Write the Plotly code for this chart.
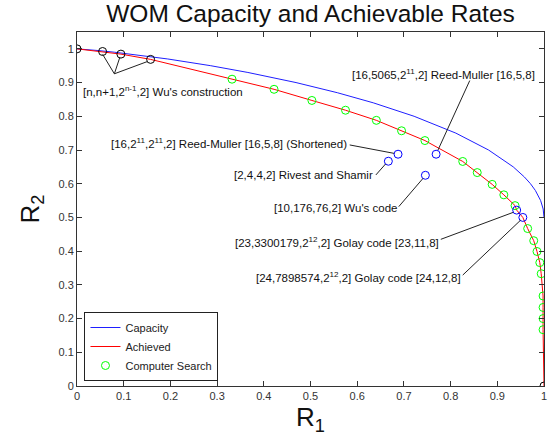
import plotly.graph_objects as go

# ---------------- data ----------------
cap_r1 = [0.0, 0.0208, 0.0454, 0.0808, 0.1414, 0.1944, 0.2864, 0.3659, 0.469, 0.5574,
          0.6343, 0.7219, 0.8113, 0.8813, 0.9341, 0.958, 0.971, 0.9815, 0.9928, 0.9982, 1.0]
cap_r2 = [1.0, 0.998, 0.995, 0.99, 0.98, 0.97, 0.95, 0.93, 0.9, 0.87,
          0.84, 0.8, 0.75, 0.7, 0.65, 0.62, 0.6, 0.58, 0.55, 0.525, 0.5]

ach_r1 = [0.0, 0.0548, 0.094, 0.1576, 0.332, 0.422, 0.503, 0.575, 0.641, 0.695, 0.745,
          0.826, 0.857, 0.889, 0.914, 0.938, 0.9415, 0.9547, 0.965, 0.978, 0.985, 0.991,
          0.994, 0.998, 0.998, 0.998, 0.998, 1.0]
ach_r2 = [1.0, 0.9922, 0.9844, 0.9688, 0.910, 0.880, 0.847, 0.818, 0.788, 0.757, 0.728,
          0.666, 0.633, 0.598, 0.567, 0.535, 0.5217, 0.5, 0.467, 0.431, 0.399, 0.366,
          0.333, 0.267, 0.233, 0.200, 0.167, 0.0]

search_r1 = [0.332, 0.422, 0.503, 0.575, 0.641, 0.695, 0.745, 0.826, 0.857, 0.889, 0.914,
             0.938, 0.965, 0.978, 0.985, 0.991, 0.994, 0.998, 0.998, 0.998, 0.998]
search_r2 = [0.910, 0.880, 0.847, 0.818, 0.788, 0.757, 0.728, 0.666, 0.633, 0.598, 0.567,
             0.535, 0.467, 0.431, 0.399, 0.366, 0.333, 0.267, 0.233, 0.200, 0.167]

code_r1 = [0.769, 0.6875, 0.6667, 0.746, 0.9415, 0.9547]
code_r2 = [0.6875, 0.6875, 0.6667, 0.625, 0.5217, 0.5]

wu_r1 = [0.0, 0.0548, 0.094, 0.1576, 1.0]
wu_r2 = [1.0, 0.9922, 0.9844, 0.9688, 0.0]

tick_vals = [0, 0.1, 0.2, 0.3, 0.4, 0.5, 0.6, 0.7, 0.8, 0.9, 1]
tick_text = ["0", "0.1", "0.2", "0.3", "0.4", "0.5", "0.6", "0.7", "0.8", "0.9", "1"]

labels = [
    "[n,n+1,2<sup>n-1</sup>,2] Wu's construction",
    "[16,5065,2<sup>11</sup>,2] Reed-Muller [16,5,8]",
    "[16,2<sup>11</sup>,2<sup>11</sup>,2] Reed-Muller [16,5,8] (Shortened)",
    "[2,4,4,2] Rivest and Shamir",
    "[10,176,76,2] Wu's code",
    "[23,3300179,2<sup>12</sup>,2] Golay code [23,11,8]",
    "[24,7898574,2<sup>12</sup>,2] Golay code [24,12,8]",
]
label_x = [0.009, 0.986, 0.582, 0.638, 0.689, 0.779, 0.826]
label_y = [0.876, 0.926, 0.720, 0.626, 0.527, 0.428, 0.323]
label_anchor = ["left", "right", "right", "right", "right", "right", "right"]

pointer_lines = [
    (0.080, 0.926, 0.0548, 0.984),
    (0.080, 0.926, 0.092, 0.976),
    (0.080, 0.926, 0.150, 0.962),
    (0.841, 0.906, 0.773, 0.700),
    (0.584, 0.715, 0.679, 0.690),
    (0.640, 0.626, 0.661, 0.659),
    (0.689, 0.532, 0.741, 0.616),
    (0.779, 0.435, 0.934, 0.515),
    (0.826, 0.329, 0.950, 0.492),
]

FONT = "Liberation Sans, Arial, Helvetica, sans-serif"

fig = go.Figure()
fig.add_trace(go.Scatter(x=cap_r1, y=cap_r2, mode="lines", name="Capacity",
                         line=dict(color="#1f1fff", width=1)))
fig.add_trace(go.Scatter(x=ach_r1, y=ach_r2, mode="lines", name="Achieved",
                         line=dict(color="#ff0000", width=1)))
fig.add_trace(go.Scatter(x=search_r1, y=search_r2, mode="markers", name="Computer Search",
                         marker=dict(symbol="circle-open", size=8, color="#00ff00",
                                     line=dict(width=1, color="#00ff00"))))
fig.add_trace(go.Scatter(x=code_r1, y=code_r2, mode="markers", showlegend=False,
                         marker=dict(symbol="circle-open", size=8, color="#0000ff",
                                     line=dict(width=1, color="#0000ff"))))
fig.add_trace(go.Scatter(x=wu_r1, y=wu_r2, mode="markers", showlegend=False,
                         marker=dict(symbol="circle-open", size=8, color="#000000",
                                     line=dict(width=1, color="#000000"))))

for (x0, y0, x1, y1) in pointer_lines:
    fig.add_shape(type="line", x0=x0, y0=y0, x1=x1, y1=y1, xref="x", yref="y",
                  line=dict(color="#222222", width=1))

for t, x, y, a in zip(labels, label_x, label_y, label_anchor):
    fig.add_annotation(text=t, x=x, y=y, xref="x", yref="y", xanchor=a, yanchor="middle",
                       showarrow=False, font=dict(family=FONT, size=11.5, color="#111111"))

axis_common = dict(
    tickmode="array", tickvals=tick_vals, ticktext=tick_text,
    ticks="inside", ticklen=5, tickcolor="#333333", tickwidth=1,
    showline=True, linecolor="#333333", linewidth=1, mirror="ticks",
    showgrid=False, zeroline=False, automargin=False,
    tickfont=dict(family=FONT, size=11, color="#333333"),
)

fig.update_layout(
    width=552, height=445,
    margin=dict(l=77, r=8, t=32, b=59),
    paper_bgcolor="white", plot_bgcolor="white",
    title=dict(text="WOM Capacity and Achievable Rates", x=0.5625, xanchor="center",
               y=1 - 13 / 445, yanchor="middle", yref="container",
               font=dict(family=FONT, size=24.5, color="#111111")),
    xaxis=dict(range=[0, 1], title=dict(text="R<sub>1</sub>", standoff=2,
               font=dict(family=FONT, size=26, color="#111111")), **axis_common),
    yaxis=dict(range=[0, 1.05], title=dict(text="R<sub>2</sub>", standoff=11,
               font=dict(family=FONT, size=26, color="#111111")), **axis_common),
    legend=dict(x=0.016, y=0.209, xanchor="left", yanchor="top",
                bordercolor="#222222", borderwidth=1, bgcolor="white",
                font=dict(family=FONT, size=11, color="#222222"),
                tracegroupgap=0, itemwidth=30),
    showlegend=True,
)

fig.write_html("out.html", config={"displayModeBar": False},
               post_script="document.body.style.margin='0px';")
